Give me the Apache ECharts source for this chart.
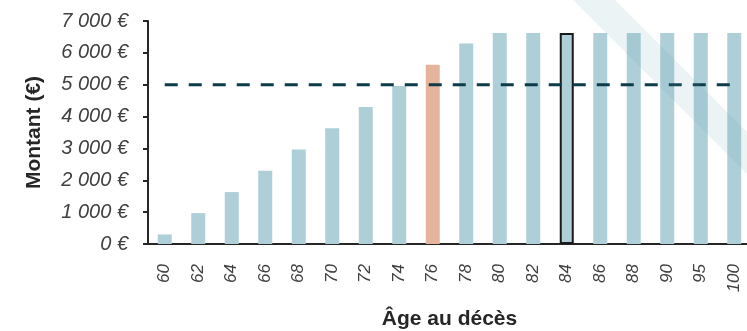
<!DOCTYPE html>
<html>
<head>
<meta charset="utf-8">
<script src="https://cdn.jsdelivr.net/npm/echarts@6/dist/echarts.min.js"></script>
<style>html,body{margin:0;padding:0;background:#fff}#c{width:747px;height:331px}</style>
</head>
<body>
<div id="c"></div>
<script>
const ages = ['60','62','64','66','68','70','72','74','76','78','80','82','84','86','88','90','95','100'];
const amounts = [300, 970, 1630, 2300, 2970, 3630, 4300, 4960, 5630, 6290, 6620, 6620, 6620, 6620, 6620, 6620, 6620, 6620];
const threshold = 5000;
const highlightAge = '76';
const outlinedAge = '84';
const yTicks = [0, 1000, 2000, 3000, 4000, 5000, 6000, 7000];

const FONT = 'Liberation Sans';
const chart = echarts.init(document.getElementById('c'));
function fmt(v){
  return String(v).replace(/\B(?=(\d{3})+(?!\d))/g, ' ') + ' €';
}
chart.setOption({
  animation: false,
  grid: {left: 148, top: 21, width: 603, height: 223, containLabel: false, outerBoundsMode: 'none'},
  xAxis: {
    type: 'category',
    data: ages,
    name: 'Âge au décès',
    nameLocation: 'middle',
    nameGap: 65,
    nameTextStyle: {fontFamily: FONT, fontWeight: 'bold', fontSize: 21, color: '#262626'},
    axisLine: {lineStyle: {color: '#262626', width: 2}},
    axisTick: {show: false},
    axisLabel: {rotate: 90, fontFamily: FONT, fontStyle: 'italic', fontSize: 17, color: '#404040', margin: 20}
  },
  yAxis: {
    type: 'value',
    min: yTicks[0],
    max: yTicks[yTicks.length - 1],
    interval: 1000,
    name: 'Montant (€)',
    nameLocation: 'middle',
    nameGap: 103,
    nameTextStyle: {fontFamily: FONT, fontWeight: 'bold', fontSize: 21, color: '#262626'},
    axisLine: {show: true, lineStyle: {color: '#262626', width: 2}},
    axisTick: {show: true, length: 5, lineStyle: {color: '#262626', width: 2}},
    splitLine: {show: false},
    axisLabel: {fontFamily: FONT, fontStyle: 'italic', fontSize: 20, color: '#404040', margin: 20, formatter: fmt}
  },
  series: [
    {
      type: 'bar',
      barWidth: 14,
      data: amounts.map((v, i) => {
        const a = ages[i];
        if (a === highlightAge) return {value: v, itemStyle: {color: '#e4b49c'}};
        if (a === outlinedAge) return {value: v, itemStyle: {color: '#aecfd8', borderColor: '#1a1a1a', borderWidth: 2}};
        return v;
      }),
      itemStyle: {color: '#aecfd8'},
      z: 2
    },
    {
      type: 'line',
      data: ages.map(() => threshold),
      symbol: 'none',
      lineStyle: {color: '#0e3b49', width: 3, type: [13, 11], cap: 'butt'},
      z: 3
    }
  ],
  graphic: [{
    type: 'polygon',
    z: 100,
    silent: true,
    shape: {points: [[573, 0], [615, 0], [800, 185], [800, 227]]},
    style: {fill: 'rgba(100,160,180,0.13)'}
  }]
});
</script>
</body>
</html>
